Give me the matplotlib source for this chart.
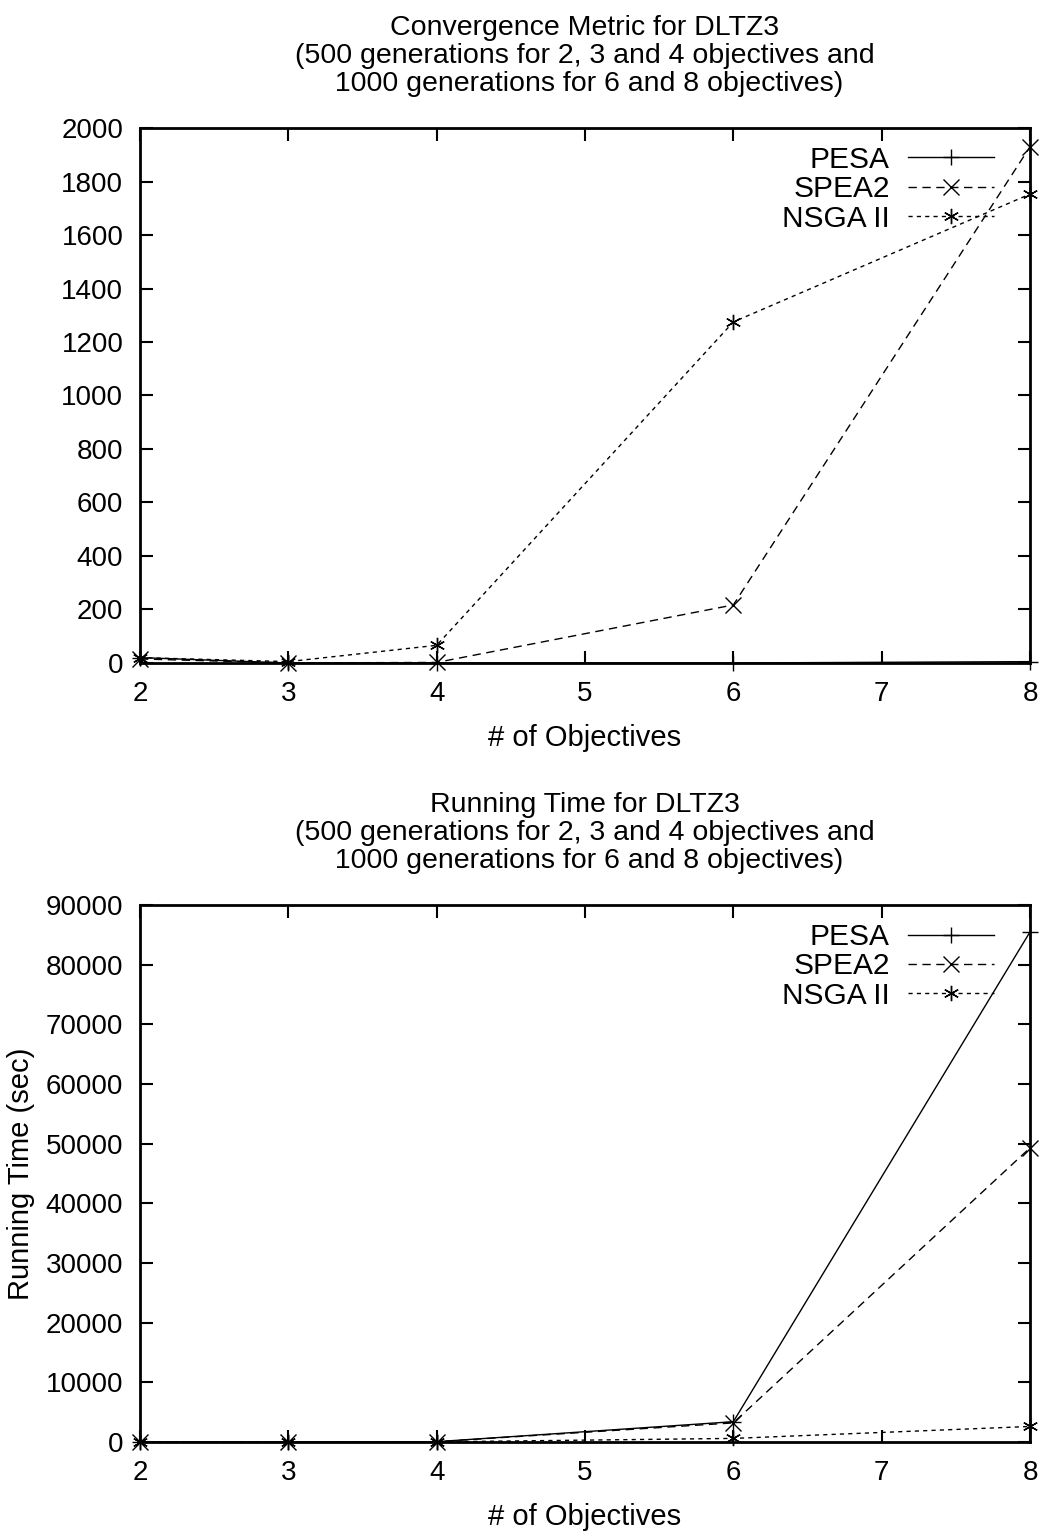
import numpy as np
import matplotlib
matplotlib.use('Agg')
import matplotlib.pyplot as plt

plt.rcParams['font.family'] = ['Liberation Sans', 'DejaVu Sans']

objectives = [2, 3, 4, 6, 8]

# convergence metric
conv_pesa = [20, 0, 0, 0, 5]
conv_spea2 = [15, 0, 2, 217, 1930]
conv_nsga = [20, 5, 66, 1275, 1753]

# running time (sec)
time_pesa = [0, 0, 50, 3400, 85500]
time_spea2 = [0, 0, 50, 3200, 49300]
time_nsga = [0, 0, 20, 600, 2600]

x_ticks = [2, 3, 4, 5, 6, 7, 8]
conv_yticks = np.arange(0, 2001, 200)
time_yticks = np.arange(0, 90001, 10000)

sub = ("(500 generations for 2, 3 and 4 objectives and\n"
       " 1000 generations for 6 and 8 objectives)")

fig = plt.figure(figsize=(10.47, 15.35), dpi=100)
ax1 = fig.add_axes([0.1337, 0.5681, 0.8501, 0.3485])
ax2 = fig.add_axes([0.1337, 0.0606, 0.8501, 0.3498])

star = (6, 2, 0)
styles = [
    ('PESA', '-', '+'),
    ('SPEA2', (0, (6, 4)), 'x'),
    ('NSGA II', (0, (3, 3)), star),
]


def draw(ax, series, yticks, ymax, title, ylabel=None):
    for (name, ls, mk), ys in zip(styles, series):
        ax.plot(objectives, ys, linestyle=ls, marker=mk, color='black',
                lw=1.0, markersize=11, markeredgewidth=1.0, label=name,
                clip_on=False)
    ax.set_xlim(2, 8)
    ax.set_ylim(0, ymax)
    ax.set_xticks(x_ticks)
    ax.set_yticks(yticks)
    ax.tick_params(direction='in', length=9, width=1.5, labelsize=20,
                   top=True, right=True)
    ax.tick_params(axis='x', pad=13)
    ax.tick_params(axis='y', pad=12)
    for s in ax.spines.values():
        s.set_linewidth(2)
    ax.set_title(title, fontsize=20.5, linespacing=1.1, pad=27)
    ax.set_xlabel('# of Objectives', fontsize=21, labelpad=12)
    if ylabel:
        ax.set_ylabel(ylabel, fontsize=21, labelpad=8)
    leg = ax.legend(loc='upper right', frameon=False, fontsize=21.5,
                    markerfirst=False, handlelength=2.9, borderaxespad=0.2,
                    labelspacing=0.05, handletextpad=0.6,
                    bbox_to_anchor=(0.98, 1.0))
    for t in leg.get_texts():
        t.set_ha('right')


draw(ax1, [conv_pesa, conv_spea2, conv_nsga], conv_yticks, 2000,
     'Convergence Metric for DLTZ3\n' + sub)
draw(ax2, [time_pesa, time_spea2, time_nsga], time_yticks, 90000,
     'Running Time for DLTZ3\n' + sub, 'Running Time (sec)')

fig.savefig('out.png', dpi=100)
